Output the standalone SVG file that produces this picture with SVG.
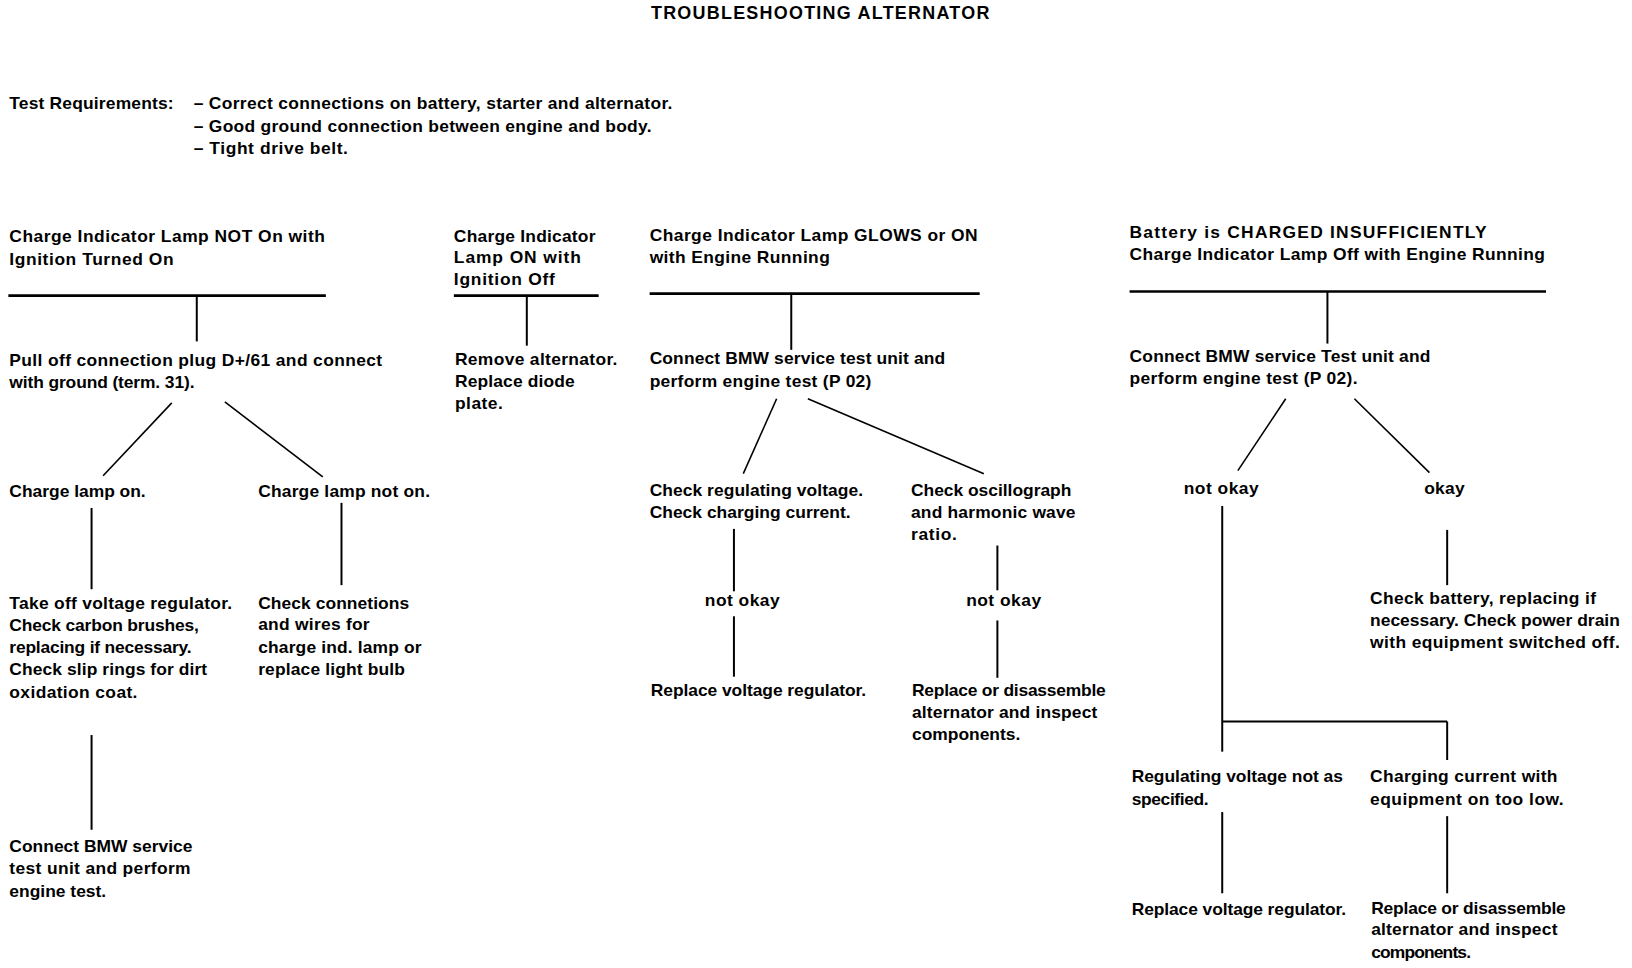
<svg xmlns="http://www.w3.org/2000/svg" width="1632" height="968" viewBox="0 0 1632 968">
<style>
text{font-family:"Liberation Sans",Arial,sans-serif;font-weight:bold;font-size:17.5px;fill:#000}
.title{font-size:18px}
.c line{stroke:#000;stroke-width:2;fill:none}
.c .h{stroke-width:2.6}
.c .d{stroke-width:1.6}
</style>
<rect width="1632" height="968" fill="#fff"/>
<g transform="scale(0.9953)">
<g id="title"><text class="title" x="654" y="19" textLength="340">TROUBLESHOOTING ALTERNATOR</text></g>
<g id="requirements">
<text x="9.4" y="110" textLength="165">Test Requirements:</text>
<text x="194.6" y="110" textLength="481">– Correct connections on battery, starter and alternator.</text>
<text x="194.6" y="132.3" textLength="460">– Good ground connection between engine and body.</text>
<text x="194.6" y="154.3" textLength="155">– Tight drive belt.</text>
</g>
<g class="c" id="connectors">
<line class="h" x1="8.4" y1="297" x2="327.4" y2="297"/>
<line x1="197.7" y1="297" x2="197.7" y2="343"/>
<line class="d" x1="172.6" y1="404.8" x2="103.6" y2="478"/>
<line class="d" x1="225.9" y1="403.8" x2="324.3" y2="479.1"/>
<line x1="92" y1="510.4" x2="92" y2="592"/>
<line x1="343.1" y1="505.2" x2="343.1" y2="587.9"/>
<line x1="92" y1="738.5" x2="92" y2="833.7"/>
<line class="h" x1="456" y1="297" x2="601.5" y2="297"/>
<line x1="529.3" y1="297" x2="529.3" y2="347.3"/>
<line class="h" x1="652.7" y1="295" x2="984.3" y2="295"/>
<line x1="795" y1="295" x2="795" y2="351.5"/>
<line class="d" x1="780.3" y1="400.6" x2="746.8" y2="475.9"/>
<line class="d" x1="811.7" y1="400.6" x2="988.5" y2="475.9"/>
<line x1="737.4" y1="531.4" x2="737.4" y2="594.1"/>
<line x1="737.4" y1="619.2" x2="737.4" y2="679.9"/>
<line x1="1002.1" y1="548.1" x2="1002.1" y2="593.1"/>
<line x1="1002.1" y1="623.4" x2="1002.1" y2="681"/>
<line class="h" x1="1134.9" y1="292.9" x2="1553.3" y2="292.9"/>
<line x1="1333.7" y1="292.9" x2="1333.7" y2="345.2"/>
<line class="d" x1="1291.8" y1="400.6" x2="1243.7" y2="472.8"/>
<line class="d" x1="1360.8" y1="400.6" x2="1436.2" y2="474.9"/>
<line x1="1228" y1="508.4" x2="1228" y2="755.2"/>
<line x1="1228" y1="724.9" x2="1454" y2="724.9"/>
<line x1="1454" y1="724.9" x2="1454" y2="763.6"/>
<line x1="1454" y1="532.4" x2="1454" y2="587.9"/>
<line x1="1228" y1="815.9" x2="1228" y2="897.5"/>
<line x1="1454" y1="820" x2="1454" y2="897.5"/>
</g>
<g id="n1-head">
<text x="9.4" y="243.2" textLength="317">Charge Indicator Lamp NOT On with</text>
<text x="9.4" y="266.2" textLength="165">Ignition Turned On</text>
</g>
<g id="n1-pull">
<text x="9.4" y="367.7" textLength="374.5">Pull off connection plug D+/61 and connect</text>
<text x="9.4" y="389.6" textLength="186">with ground (term. 31).</text>
</g>
<g id="n1-lampon"><text x="9.4" y="499.5" textLength="137">Charge lamp on.</text></g>
<g id="n1-lampnoton"><text x="259.4" y="499.5" textLength="172.6">Charge lamp not on.</text></g>
<g id="n1-takeoff">
<text x="9.4" y="611.4" textLength="223.8">Take off voltage regulator.</text>
<text x="9.4" y="634.4" textLength="190.4">Check carbon brushes,</text>
<text x="9.4" y="656.4" textLength="183">replacing if necessary.</text>
<text x="9.4" y="678.3" textLength="198.7">Check slip rings for dirt</text>
<text x="9.4" y="701.3" textLength="128.7">oxidation coat.</text>
</g>
<g id="n1-checkconn">
<text x="259.4" y="611.4" textLength="151.7">Check connetions</text>
<text x="259.4" y="633.4" textLength="112">and wires for</text>
<text x="259.4" y="656.4" textLength="164.2">charge ind. lamp or</text>
<text x="259.4" y="678.3" textLength="147.5">replace light bulb</text>
</g>
<g id="n1-connect">
<text x="9.4" y="856.1" textLength="184">Connect BMW service</text>
<text x="9.4" y="878.1" textLength="182">test unit and perform</text>
<text x="9.4" y="901.1" textLength="97.3">engine test.</text>
</g>
<g id="n2-head">
<text x="456" y="243.2" textLength="142.3">Charge Indicator</text>
<text x="456" y="264.1" textLength="127.6">Lamp ON with</text>
<text x="456" y="286.1" textLength="101.5">Ignition Off</text>
</g>
<g id="n2-remove">
<text x="457.1" y="366.6" textLength="163.2">Remove alternator.</text>
<text x="457.1" y="388.6" textLength="120.3">Replace diode</text>
<text x="457.1" y="410.6" textLength="48.1">plate.</text>
</g>
<g id="n3-head">
<text x="652.7" y="242.1" textLength="329.5">Charge Indicator Lamp GLOWS or ON</text>
<text x="652.7" y="264.1" textLength="181">with Engine Running</text>
</g>
<g id="n3-connect">
<text x="652.7" y="365.6" textLength="297">Connect BMW service test unit and</text>
<text x="652.7" y="388.6" textLength="222.8">perform engine test (P 02)</text>
</g>
<g id="n3-checkreg">
<text x="652.7" y="498.4" textLength="214.4">Check regulating voltage.</text>
<text x="652.7" y="520.4" textLength="201.9">Check charging current.</text>
</g>
<g id="n3-checkosc">
<text x="915.3" y="498.4" textLength="161.1">Check oscillograph</text>
<text x="915.3" y="520.4" textLength="165.3">and harmonic wave</text>
<text x="915.3" y="542.4" textLength="46">ratio.</text>
</g>
<g id="n3-notokay1"><text x="708.1" y="609.3" textLength="75.3">not okay</text></g>
<g id="n3-notokay2"><text x="970.7" y="609.3" textLength="75.3">not okay</text></g>
<g id="n3-replreg"><text x="653.8" y="699.3" textLength="216.5">Replace voltage regulator.</text></g>
<g id="n3-replalt">
<text x="916.3" y="699.3" textLength="194.6">Replace or disassemble</text>
<text x="916.3" y="721.2" textLength="186.2">alternator and inspect</text>
<text x="916.3" y="743.2" textLength="108.8">components.</text>
</g>
<g id="n4-head">
<text x="1134.9" y="239" textLength="358.8">Battery is CHARGED INSUFFICIENTLY</text>
<text x="1134.9" y="261" textLength="417.4">Charge Indicator Lamp Off with Engine Running</text>
</g>
<g id="n4-connect">
<text x="1134.9" y="363.5" textLength="302.3">Connect BMW service Test unit and</text>
<text x="1134.9" y="385.5" textLength="229.1">perform engine test (P 02).</text>
</g>
<g id="n4-notokay"><text x="1189.3" y="496.3" textLength="75.3">not okay</text></g>
<g id="n4-okay"><text x="1430.9" y="496.3" textLength="40.8">okay</text></g>
<g id="n4-battery">
<text x="1376.5" y="607.3" textLength="227">Check battery, replacing if</text>
<text x="1376.5" y="629.3" textLength="251">necessary. Check power drain</text>
<text x="1376.5" y="651.3" textLength="251">with equipment switched off.</text>
</g>
<g id="n4-regvolt">
<text x="1137" y="786.1" textLength="212.3">Regulating voltage not as</text>
<text x="1137" y="809.1" textLength="77.4">specified.</text>
</g>
<g id="n4-chgcur">
<text x="1376.5" y="786.1" textLength="188.3">Charging current with</text>
<text x="1376.5" y="809.1" textLength="194.6">equipment on too low.</text>
</g>
<g id="n4-replreg"><text x="1137" y="918.9" textLength="215.5">Replace voltage regulator.</text></g>
<g id="n4-replalt">
<text x="1377.6" y="917.9" textLength="195.6">Replace or disassemble</text>
<text x="1377.6" y="939.8" textLength="187.2">alternator and inspect</text>
<text x="1377.6" y="962.9" textLength="100.4">components.</text>
</g>
</g>
</svg>
